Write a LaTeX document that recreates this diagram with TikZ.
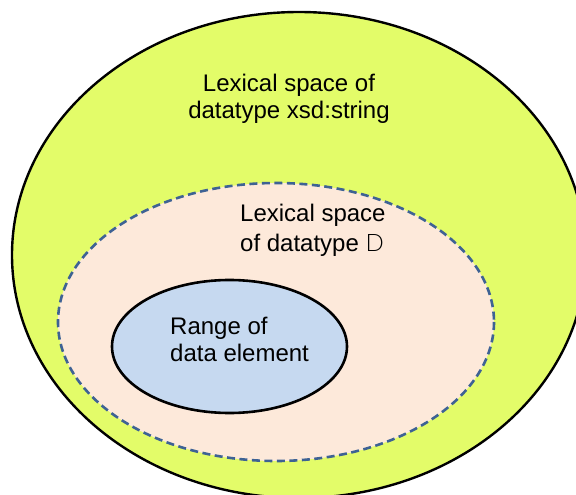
\documentclass[tikz,border=0pt]{standalone}
\usepackage{fontspec}
\setmainfont{Liberation Sans}
\newfontfamily\thinfont{Lato Light}
\definecolor{outerfill}{RGB}{227,252,105}
\definecolor{midfill}{RGB}{253,233,218}
\definecolor{innerfill}{RGB}{198,217,240}
\definecolor{dashcol}{RGB}{62,98,148}
\tikzset{
  label text/.style={inner sep=0pt, font=\fontsize{24}{27}\selectfont},
}
\begin{document}
\begin{tikzpicture}[x=1pt,y=-1pt]
  \useasboundingbox (0,0) rectangle (576,495);
  \clip (0,0) rectangle (576,495);
  % nested sets
  \path[fill=outerfill, draw=black, line width=2.4pt]
    (299,255) ellipse [x radius=287, y radius=243];
  \path[fill=midfill, draw=dashcol, line width=2.6pt, dash pattern=on 8pt off 4.5pt]
    (276,322) ellipse [x radius=218, y radius=139];
  \path[fill=innerfill, draw=black, line width=2.6pt]
    (229.5,346.5) ellipse [x radius=117.5, y radius=66.5];
  % labels
  \node[label text, align=center, anchor=north] (outerlabel) at (289,74)
    {Lexical space of\\datatype xsd:string};
  \node[label text, align=left, anchor=north west] (midlabel) at (240,204)
    {Lexical space\\[3pt]of datatype {\thinfont D}};
  \node[label text, align=left, anchor=north west] (innerlabel) at (170,317)
    {Range of\\data element};
\end{tikzpicture}
\end{document}
